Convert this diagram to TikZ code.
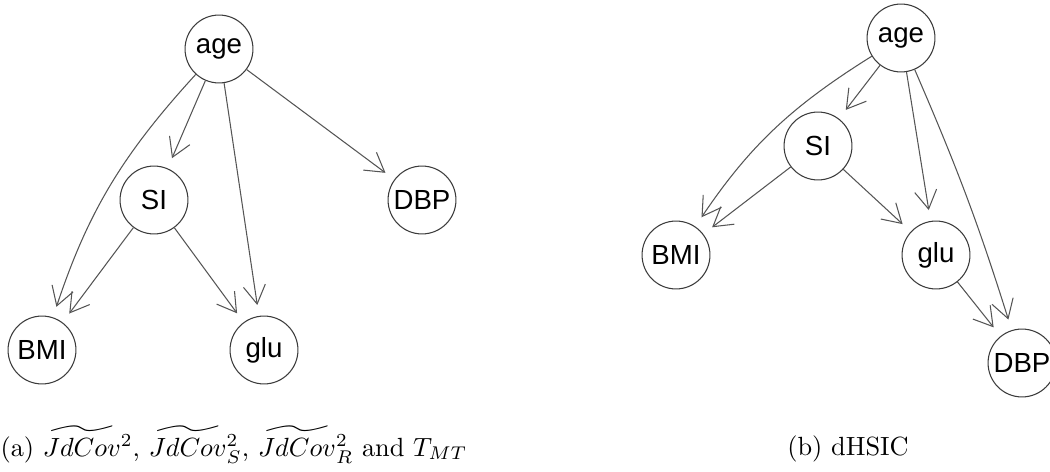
\documentclass[tikz,border=0pt]{standalone}
\usepackage{amssymb,amsmath}
\usepackage{fontspec}
\usepackage{tikz}
\usetikzlibrary{arrows.meta,automata}
\newfontfamily\vertexfont{Liberation Sans}
\definecolor{EDGE}{HTML}{555555}
\definecolor{RING}{HTML}{3A3A3A}
\newcommand{\jdcov}{\widetilde{JdCov}{}}

\begin{document}
\begin{tikzpicture}[->,>={Straight Barb[length=7pt,width=8.4pt]},shorten >=4.2pt,x=0.38pt,y=-0.38pt,thin]
	\tikzstyle{every state}=[draw=RING,minimum size=25.8pt,inner sep=0pt,font=\vertexfont\fontsize{10.5}{12}\selectfont]
	\tikzstyle{every edge}=[draw=EDGE]
	\useasboundingbox (0,0) rectangle (1050,472);
	
	% (a) JdCov graph
	\node[state] (age1) at (219,49)  {age};
	\node[state] (SI1)  at (154,200) {SI};
	\node[state] (DBP1) at (422,200) {DBP};
	\node[state] (BMI1) at (42,350)  {BMI};
	\node[state] (glu1) at (264,350) {glu};
	
	% (b) dHSIC graph
	\node[state] (age2) at (901,38)   {age};
	\node[state] (SI2)  at (818,146)  {SI};
	\node[state] (BMI2) at (676,255)  {BMI};
	\node[state] (glu2) at (936,255)  {glu};
	\node[state] (DBP2) at (1022,363) {DBP};
	
	\node (capA) [anchor=base west,inner sep=0pt] at (0,456)
		{(a) $\jdcov^2$, $\jdcov^2_S$, $\jdcov^2_R$ and $T_{MT}$};
	\node (capB) [anchor=base,inner sep=0pt] at (848,455) {(b) dHSIC};
	
	\path 
	(age1)   edge [bend right=12] (BMI1)
	         edge                 (SI1)
	         edge                 (glu1)
	         edge                 (DBP1)
	(SI1)    edge                 (BMI1)
	         edge                 (glu1)
	(age2)   edge [bend right=12] (BMI2)
	         edge                 (SI2)
	         edge                 (glu2)
	         edge [bend left=3]   (DBP2)
	(SI2)    edge                 (BMI2)
	         edge                 (glu2)
	(glu2)   edge                 (DBP2);
\end{tikzpicture}
\end{document}
